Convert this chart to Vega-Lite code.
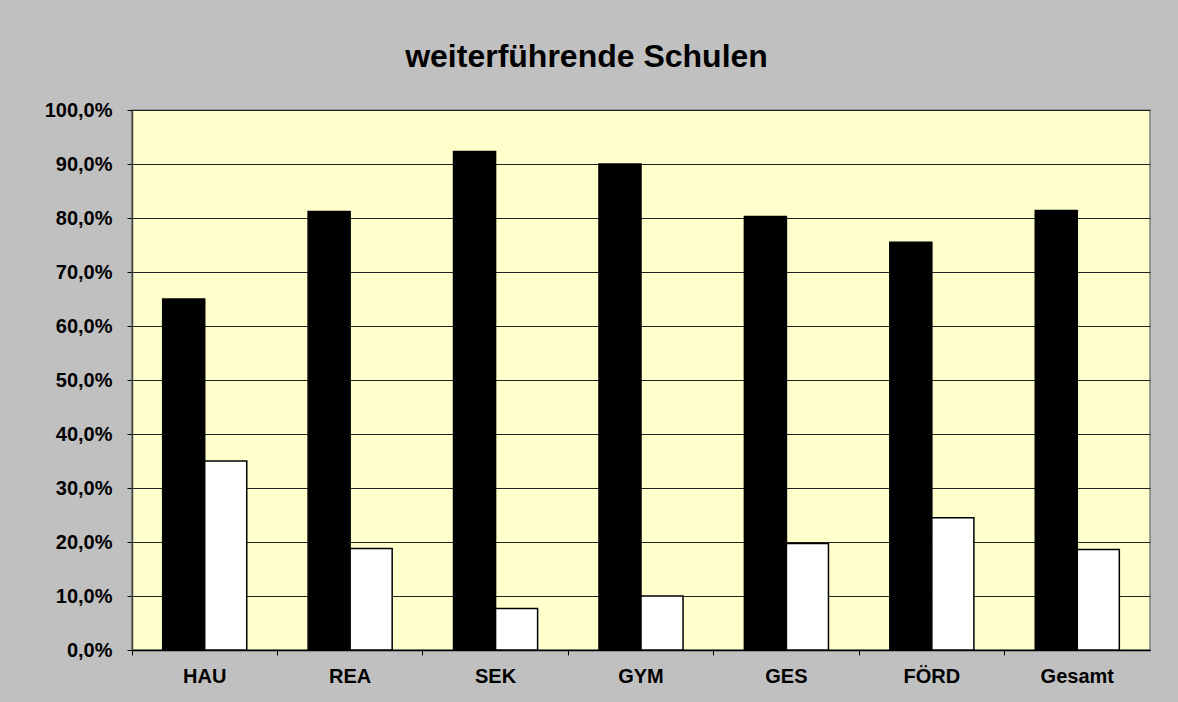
{
  "$schema": "https://vega.github.io/schema/vega-lite/v6.json",
  "autosize": {"type": "none"},
  "width": 1018,
  "height": 540,
  "padding": {"left": 132, "top": 110, "right": 28, "bottom": 52},
  "background": "#c0c0c0",
  "title": {
    "text": "weiterführende Schulen",
    "font": "Liberation Sans",
    "fontSize": 32,
    "fontWeight": "bold",
    "color": "#000000",
    "anchor": "middle",
    "baseline": "alphabetic",
    "dx": -54.5,
    "offset": 1
  },
  "config": {
    "view": {"fill": "#ffffcc", "stroke": "#808080", "strokeWidth": 1.5},
    "axis": {
      "labelFont": "Liberation Sans",
      "labelFontSize": 20,
      "labelFontWeight": "bold",
      "labelColor": "#000000",
      "tickColor": "#000000",
      "tickSize": 5,
      "title": null
    }
  },
  "data": {
    "values": [
      {"Schule": "HAU", "Serie": "Serie 1", "Wert": 0.650},
      {"Schule": "HAU", "Serie": "Serie 2", "Wert": 0.350},
      {"Schule": "REA", "Serie": "Serie 1", "Wert": 0.812},
      {"Schule": "REA", "Serie": "Serie 2", "Wert": 0.188},
      {"Schule": "SEK", "Serie": "Serie 1", "Wert": 0.923},
      {"Schule": "SEK", "Serie": "Serie 2", "Wert": 0.077},
      {"Schule": "GYM", "Serie": "Serie 1", "Wert": 0.900},
      {"Schule": "GYM", "Serie": "Serie 2", "Wert": 0.100},
      {"Schule": "GES", "Serie": "Serie 1", "Wert": 0.803},
      {"Schule": "GES", "Serie": "Serie 2", "Wert": 0.197},
      {"Schule": "FÖRD", "Serie": "Serie 1", "Wert": 0.755},
      {"Schule": "FÖRD", "Serie": "Serie 2", "Wert": 0.245},
      {"Schule": "Gesamt", "Serie": "Serie 1", "Wert": 0.814},
      {"Schule": "Gesamt", "Serie": "Serie 2", "Wert": 0.186}
    ]
  },
  "mark": {"type": "bar", "stroke": "#000000", "strokeWidth": 1.5},
  "encoding": {
    "x": {
      "field": "Schule",
      "type": "nominal",
      "sort": ["HAU", "REA", "SEK", "GYM", "GES", "FÖRD", "Gesamt"],
      "scale": {"paddingInner": 0, "paddingOuter": 0},
      "axis": {
        "bandPosition": 0,
        "labelAngle": 0,
        "labelPadding": 11,
        "domain": true,
        "domainColor": "#000000",
        "domainWidth": 1.5,
        "grid": false
      }
    },
    "xOffset": {
      "field": "Serie",
      "type": "nominal",
      "scale": {"paddingInner": 0, "paddingOuter": 0.73}
    },
    "y": {
      "field": "Wert",
      "type": "quantitative",
      "scale": {"domain": [0, 1], "nice": false},
      "axis": {
        "values": [0, 0.1, 0.2, 0.3, 0.4, 0.5, 0.6, 0.7, 0.8, 0.9, 1.0],
        "labelExpr": "replace(format(datum.value, '.1%'), '.', ',')",
        "labelPadding": 15,
        "grid": true,
        "gridColor": "#222222",
        "gridWidth": 1,
        "domain": true,
        "domainColor": "#404040",
        "domainWidth": 1.5
      }
    },
    "fill": {
      "field": "Serie",
      "type": "nominal",
      "scale": {"domain": ["Serie 1", "Serie 2"], "range": ["#000000", "#ffffff"]},
      "legend": null
    }
  }
}
